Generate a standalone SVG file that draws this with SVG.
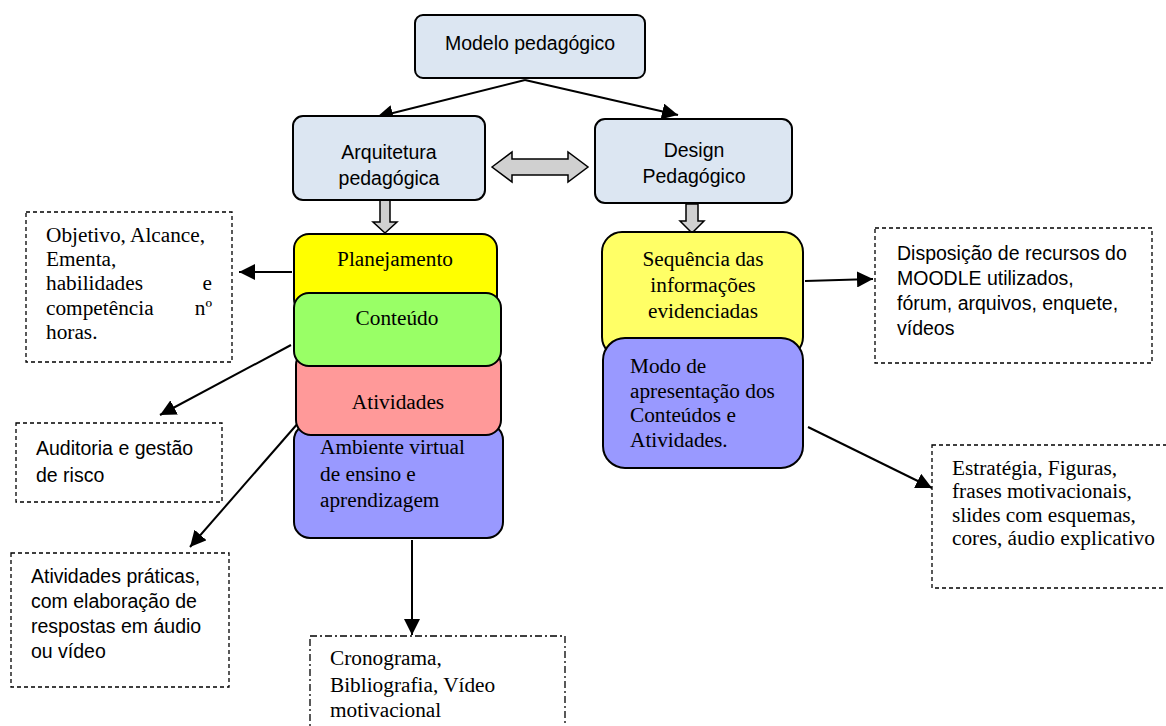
<svg xmlns="http://www.w3.org/2000/svg" width="1166" height="726" viewBox="0 0 1166 726">
<defs>
<marker id="ah" markerUnits="userSpaceOnUse" markerWidth="18" markerHeight="16" refX="16" refY="8" orient="auto">
<path d="M0,0 L16,8 L0,16 Z" fill="#000"/>
</marker>
<style>
.blue{fill:#DCE6F2;stroke:#000;stroke-width:2}
.stk{stroke:#000;stroke-width:2}
.dash{fill:#fff;stroke:#000;stroke-width:1.3;stroke-dasharray:4 3}
.dashdot{fill:#fff;stroke:#000;stroke-width:1.3;stroke-dasharray:7 3 2 3}
.gray{fill:#D0D0D0;stroke:#000;stroke-width:1.5}
.conn{stroke:#000;stroke-width:2;fill:none;marker-end:url(#ah)}
.sans{font-family:"Liberation Sans",Arial,sans-serif;font-size:19.5px;fill:#000}
.serif{font-family:"Liberation Serif","Times New Roman",serif;font-size:21.3px;fill:#000}
.mid{text-anchor:middle}
.end{text-anchor:end}
</style>
</defs>
<rect width="1166" height="726" fill="#fff"/>

<g id="connectors">
<line class="conn" x1="525" y1="80" x2="377" y2="117"/>
<line class="conn" x1="525" y1="80" x2="678" y2="115"/>
<polygon class="gray" points="492,167 512,152 512,159 568,159 568,152 588,167 568,182 568,175 512,175 512,182"/>
<polygon class="gray" points="380,200 390,200 390,222 397,222 385,233 373,222 380,222"/>
<polygon class="gray" points="686,204 698,204 698,221 704,221 692,233 680,221 686,221"/>
<line class="conn" x1="292" y1="272" x2="239" y2="272"/>
<line class="conn" x1="291" y1="345" x2="160" y2="415"/>
<line class="conn" x1="299" y1="422" x2="190" y2="547"/>
<line class="conn" x1="412" y1="540" x2="412" y2="635"/>
<line class="conn" x1="805" y1="281" x2="873" y2="279"/>
<line class="conn" x1="808" y1="427" x2="932" y2="488"/>
</g>

<g id="modelo">
<rect class="blue" x="415" y="15" width="230" height="63" rx="8"/>
<text class="sans mid" x="530" y="50">Modelo pedagógico</text>
</g>
<g id="arquitetura">
<rect class="blue" x="293" y="116" width="192" height="84" rx="10"/>
<text class="sans mid" x="389" y="159">Arquitetura</text>
<text class="sans mid" x="389" y="185">pedagógica</text>
</g>
<g id="design">
<rect class="blue" x="595" y="119" width="197" height="84" rx="10"/>
<text class="sans mid" x="694" y="157">Design</text>
<text class="sans mid" x="694" y="183">Pedagógico</text>
</g>

<g id="planejamento">
<rect class="stk" fill="#FFFF00" x="294" y="234" width="203" height="80" rx="15"/>
<text class="serif mid" x="395" y="266">Planejamento</text>
</g>
<g id="ambiente">
<rect class="stk" fill="#9999FF" x="294" y="424" width="209" height="114" rx="16"/>
<text class="serif" x="320" y="454">Ambiente virtual</text>
<text class="serif" x="320" y="481">de ensino e</text>
<text class="serif" x="320" y="507">aprendizagem</text>
</g>
<g id="atividades">
<rect class="stk" fill="#FF9999" x="296" y="350" width="205" height="85" rx="15"/>
<text class="serif mid" x="398" y="409">Atividades</text>
</g>
<g id="conteudo">
<rect class="stk" fill="#99FF66" x="294" y="293" width="207" height="73" rx="15"/>
<text class="serif mid" x="397" y="325">Conteúdo</text>
</g>

<g id="sequencia">
<rect class="stk" fill="#FFFF66" x="602" y="232" width="201" height="125" rx="20"/>
<text class="serif mid" x="703" y="266">Sequência das</text>
<text class="serif mid" x="703" y="292">informações</text>
<text class="serif mid" x="703" y="318">evidenciadas</text>
</g>
<g id="modo">
<rect class="stk" fill="#9999FF" x="603" y="338" width="200" height="130" rx="22"/>
<text class="serif" x="630" y="373">Modo de</text>
<text class="serif" x="630" y="398">apresentação dos</text>
<text class="serif" x="630" y="422">Conteúdos e</text>
<text class="serif" x="630" y="447">Atividades.</text>
</g>

<g id="objetivo">
<rect class="dash" x="26" y="212" width="206" height="150"/>
<text class="serif" x="46" y="242">Objetivo, Alcance,</text>
<text class="serif" x="46" y="266">Ementa,</text>
<text class="serif" x="46" y="290">habilidades</text>
<text class="serif end" x="212" y="290">e</text>
<text class="serif" x="46" y="315">competência</text>
<text class="serif end" x="212" y="315">nº</text>
<text class="serif" x="46" y="339">horas.</text>
</g>
<g id="auditoria">
<rect class="dash" x="16" y="423" width="206" height="79"/>
<text class="sans" x="36" y="455">Auditoria e gestão</text>
<text class="sans" x="36" y="482">de risco</text>
</g>
<g id="praticas">
<rect class="dash" x="11" y="553" width="218" height="134"/>
<text class="sans" x="31" y="583">Atividades práticas,</text>
<text class="sans" x="31" y="608">com elaboração de</text>
<text class="sans" x="31" y="633">respostas em áudio</text>
<text class="sans" x="31" y="658">ou vídeo</text>
</g>
<g id="cronograma">
<rect class="dashdot" x="310" y="636" width="255" height="110"/>
<text class="serif" x="330" y="665">Cronograma,</text>
<text class="serif" x="330" y="692">Bibliografia, Vídeo</text>
<text class="serif" x="330" y="717">motivacional</text>
</g>
<g id="disposicao">
<rect class="dash" x="875" y="228" width="277" height="135"/>
<text class="sans" x="897" y="260">Disposição de recursos do</text>
<text class="sans" x="897" y="285">MOODLE utilizados,</text>
<text class="sans" x="897" y="310">fórum, arquivos, enquete,</text>
<text class="sans" x="897" y="335">vídeos</text>
</g>
<g id="estrategia">
<rect class="dash" x="932" y="445" width="240" height="143"/>
<text class="serif" x="952" y="475">Estratégia, Figuras,</text>
<text class="serif" x="952" y="498">frases motivacionais,</text>
<text class="serif" x="952" y="522">slides com esquemas,</text>
<text class="serif" x="952" y="545">cores, áudio explicativo</text>
</g>
</svg>
